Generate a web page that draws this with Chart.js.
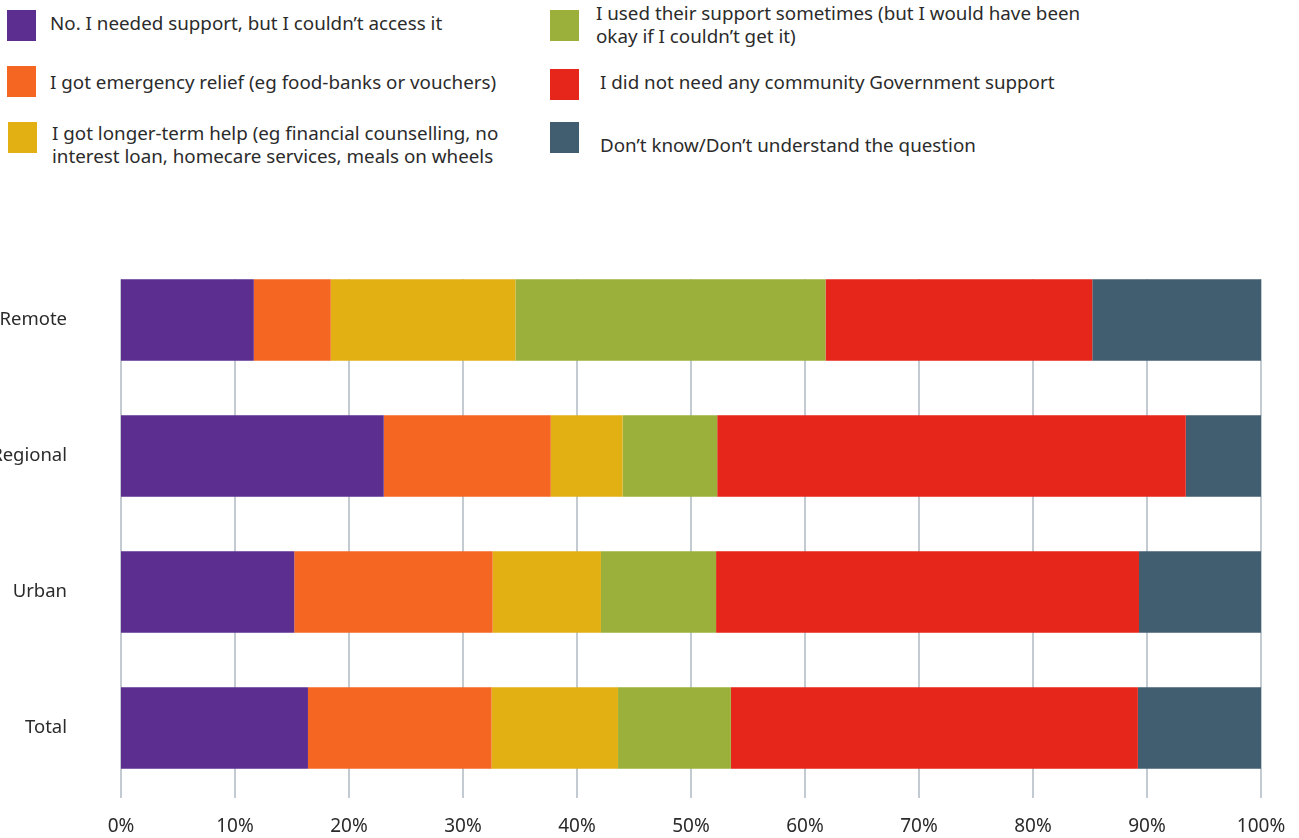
<!DOCTYPE html>
<html lang="en">
<head>
  <meta charset="UTF-8">
  <title>Community support</title>
  <style>
    body {
      margin: 0;
      background: #fff;
      font-family: "Noto Sans", sans-serif;
      color: #2b2b2b;
      overflow: hidden;
    }
    .page {
      position: relative;
      width: 1299px;
      height: 838px;
      overflow: hidden;
    }
    .key {
      position: absolute;
      width: 29px;
      height: 31px;
    }
    .txt {
      position: absolute;
      font-size: 18.8px;
      line-height: 23px;
      white-space: nowrap;
    }
    #grafico {
      position: absolute;
      left: -30px;
      top: 240px;
    }
  </style>
</head>
<body>
  <div class="page">
    <div class="key" style="left:7px;top:10px;background:#5b2e8f"></div>
    <div class="txt" style="left:50px;top:12px">No. I needed support, but I couldn’t access it</div>

    <div class="key" style="left:7px;top:66px;background:#f46622"></div>
    <div class="txt" style="left:50px;top:71px">I got emergency relief (eg food-banks or vouchers)</div>

    <div class="key" style="left:8px;top:122px;background:#e2b012"></div>
    <div class="txt" style="left:52px;top:122px">I got longer-term help (eg financial counselling, no<br>interest loan, homecare services, meals on wheels</div>

    <div class="key" style="left:550px;top:10px;background:#9ab03a"></div>
    <div class="txt" style="left:596px;top:2px">I used their support sometimes (but I would have been<br>okay if I couldn’t get it)</div>

    <div class="key" style="left:550px;top:69px;background:#e6251b"></div>
    <div class="txt" style="left:600px;top:71px">I did not need any community Government support</div>

    <div class="key" style="left:550px;top:122px;background:#405e6f"></div>
    <div class="txt" style="left:600px;top:134px">Don’t know/Don’t understand the question</div>

    <canvas id="grafico" width="1329" height="598"></canvas>
  </div>

  <script src="https://cdn.jsdelivr.net/npm/chart.js"></script>
  <script>
    const categorias = ['Remote', 'Regional', 'Urban', 'Total'];

    const naoConseguiu = [11.65, 23.05, 15.2, 16.4];
    const emergencia   = [6.75, 14.65, 17.4, 16.1];
    const longoPrazo   = [16.2, 6.3, 9.5, 11.1];
    const asVezes      = [27.2, 8.3, 10.1, 9.9];
    const naoPrecisou  = [23.4, 41.1, 37.1, 35.7];
    const naoSabe      = [14.8, 6.6, 10.7, 10.8];

    const ticksX = [0, 10, 20, 30, 40, 50, 60, 70, 80, 90, 100];

    const series = [
      { label: 'No. I needed support, but I couldn’t access it', data: naoConseguiu, cor: '#5b2e8f' },
      { label: 'I got emergency relief (eg food-banks or vouchers)', data: emergencia, cor: '#f46622' },
      { label: 'I got longer-term help', data: longoPrazo, cor: '#e2b012' },
      { label: 'I used their support sometimes', data: asVezes, cor: '#9ab03a' },
      { label: 'I did not need any community Government support', data: naoPrecisou, cor: '#e6251b' },
      { label: 'Don’t know/Don’t understand the question', data: naoSabe, cor: '#405e6f' }
    ];

    // grid lines only from the top of the first bar down, under the bars
    const grade = {
      id: 'grade',
      beforeDatasetsDraw(chart) {
        const x = chart.scales.x;
        const barra = chart.getDatasetMeta(0).data[0];
        const topo = barra.y - barra.height / 2;
        const fundo = chart.chartArea.bottom + 2;
        const ctx = chart.ctx;
        ctx.save();
        ctx.strokeStyle = '#c3cad1';
        ctx.lineWidth = 2;
        ticksX.forEach(v => {
          const px = Math.round(x.getPixelForValue(v));
          ctx.beginPath();
          ctx.moveTo(px, topo);
          ctx.lineTo(px, fundo);
          ctx.stroke();
        });
        ctx.restore();
      }
    };

    const ctx = document.getElementById('grafico').getContext('2d');
    new Chart(ctx, {
      type: 'bar',
      data: {
        labels: categorias,
        datasets: series.map(s => ({
          label: s.label,
          data: s.data,
          backgroundColor: s.cor,
          borderWidth: 0,
          barPercentage: 0.6,
          categoryPercentage: 1
        }))
      },
      options: {
        indexAxis: 'y',
        responsive: false,
        animation: false,
        layout: { padding: { top: 12, right: 38, left: 0, bottom: 0 } },
        plugins: {
          legend: { display: false },
          tooltip: { enabled: false }
        },
        scales: {
          x: {
            stacked: true,
            min: 0,
            max: 100,
            afterBuildTicks: s => { s.ticks = ticksX.map(v => ({ value: v })); },
            afterFit: s => { s.height = 42; s.paddingLeft = 0; s.paddingRight = 0; },
            grid: { display: false, drawTicks: false },
            border: { display: false },
            ticks: {
              padding: 19,
              color: '#2b2b2b',
              font: { family: 'Noto Sans', size: 19 },
              callback: v => v + '%'
            }
          },
          y: {
            stacked: true,
            // the big label gap would otherwise be added as top/bottom padding
            afterFit: s => { s.width = 151; s.paddingTop = 0; s.paddingBottom = 0; },
            grid: { display: false, drawTicks: false },
            border: { display: false },
            ticks: {
              padding: 54,
              color: '#2b2b2b',
              font: { family: 'Noto Sans', size: 18.5 }
            }
          }
        }
      },
      plugins: [grade]
    });
  </script>
</body>
</html>
